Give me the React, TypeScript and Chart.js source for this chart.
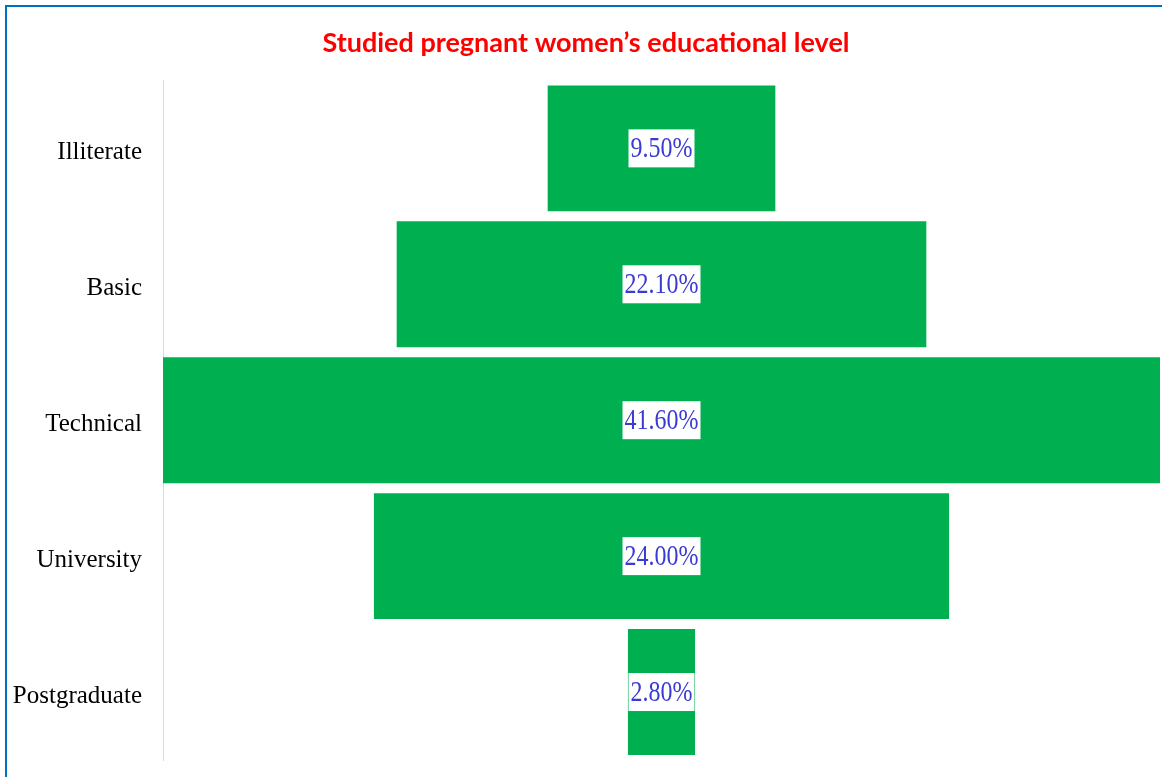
import React, { useEffect, useRef } from "react";
import { Chart, registerables } from "chart.js";

Chart.register(...registerables);

const categories = ["Illiterate", "Basic", "Technical", "University", "Postgraduate"];
const percentages = [9.5, 22.1, 41.6, 24.0, 2.8];
const valueLabels = ["9.50%", "22.10%", "41.60%", "24.00%", "2.80%"];
const axisHalfRange = 20.8;
const chartTitle = "Studied pregnant women\u2019s educational level";

const funnelLabels = {
  id: "funnelLabels",
  afterDatasetsDraw(chart: any) {
    const ctx = chart.ctx;
    const meta = chart.getDatasetMeta(0);
    meta.data.forEach((bar: any, i: number) => {
      const text = valueLabels[i];
      const { x, y } = bar.getCenterPoint();
      const sx = 0.8;
      ctx.save();
      ctx.font = "30px 'Liberation Serif', 'Times New Roman', serif";
      const w = ctx.measureText(text).width * sx;
      const bw = w + 4;
      const bh = 38;
      ctx.fillStyle = "#ffffff";
      ctx.fillRect(x - bw / 2, y - bh / 2, bw, bh);
      ctx.translate(x, y);
      ctx.scale(sx, 1);
      ctx.fillStyle = "#3b3bd4";
      ctx.textAlign = "center";
      ctx.textBaseline = "middle";
      ctx.fillText(text, 0, 1);
      ctx.restore();
    });
  },
};

export default function App() {
  const canvasRef = useRef<HTMLCanvasElement | null>(null);

  useEffect(() => {
    document.body.style.margin = "0";
    const canvas = canvasRef.current;
    if (!canvas) return;
    const chart = new Chart(canvas, {
      type: "bar",
      data: {
        labels: categories,
        datasets: [
          {
            data: percentages.map((v) => [-v / 2, v / 2]) as any,
            backgroundColor: "#00b050",
            borderWidth: 0,
            barPercentage: 0.926,
            categoryPercentage: 1,
          },
        ],
      },
      options: {
        indexAxis: "y",
        responsive: false,
        animation: false,
        layout: { padding: { left: 12, right: 2, top: 0, bottom: 17 } },
        plugins: {
          legend: { display: false },
          tooltip: { enabled: false },
          title: {
            display: true,
            text: chartTitle,
            color: "#ff0000",
            font: { family: "Lato, 'Open Sans', sans-serif", size: 27, weight: "bold" },
            padding: { top: 27, bottom: 21 },
          },
        },
        scales: {
          x: {
            display: false,
            min: -axisHalfRange,
            max: axisHalfRange,
          },
          y: {
            grid: { display: false, drawTicks: false },
            border: { display: true, color: "#d9d9d9", width: 1 },
            ticks: {
              color: "#000000",
              padding: 21,
              labelOffset: 4,
              font: { family: "'Liberation Serif', 'Times New Roman', serif", size: 25 },
            },
            afterFit(scale: any) {
              scale.width = 151;
              scale.paddingTop = 0;
              scale.paddingBottom = 0;
            },
          },
        },
      },
      plugins: [funnelLabels],
    });
    return () => chart.destroy();
  }, []);

  return (
    <div style={{ position: "relative", width: 1162, height: 777, background: "#fff" }}>
      <canvas ref={canvasRef} width={1162} height={777} style={{ display: "block" }} />
      <div style={{ position: "absolute", left: 5, top: 5, width: 1157, height: 2, background: "#0070c0" }} />
      <div style={{ position: "absolute", left: 5, top: 5, width: 2, height: 772, background: "#0070c0" }} />
    </div>
  );
}
